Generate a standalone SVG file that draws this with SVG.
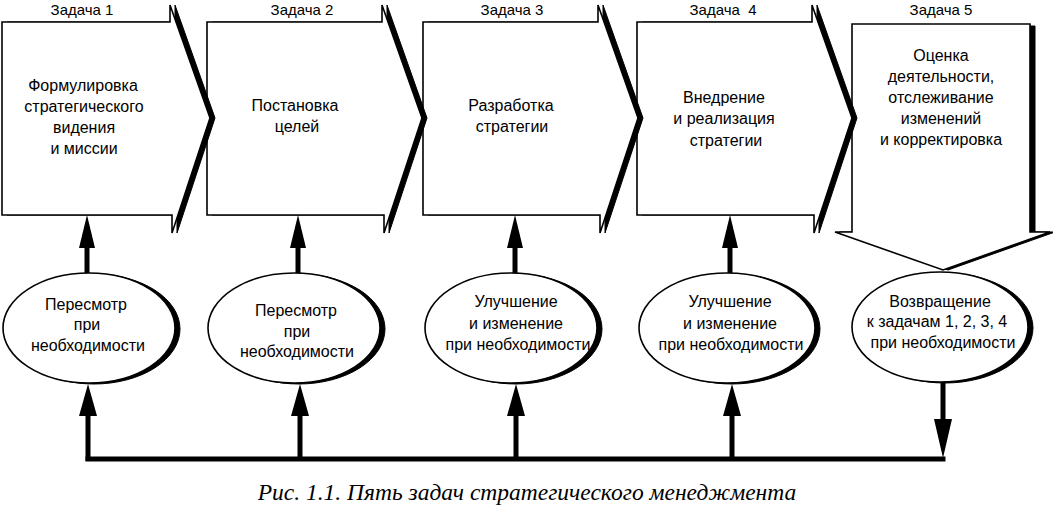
<svg xmlns="http://www.w3.org/2000/svg" width="1053" height="508" viewBox="0 0 1053 508">
<style>
.box{fill:#fff;stroke:#000;stroke-width:1.6;stroke-linejoin:miter}
.sh{fill:#000;stroke:#000;stroke-width:1}
.ell{fill:#fff;stroke:#000;stroke-width:1.6}
.lbl{font-family:"Liberation Sans",Arial,sans-serif;font-size:15px;fill:#000;text-anchor:middle}
.t{font-family:"Liberation Sans",Arial,sans-serif;font-size:16px;fill:#000;text-anchor:middle}
.cap{font-family:"Liberation Serif","Times New Roman",serif;font-style:italic;font-size:23.5px;fill:#000;text-anchor:middle}
.shaft{stroke:#000;stroke-width:5;fill:none}
.head{fill:#000}
</style>
<rect width="1053" height="508" fill="#fff"/>

<g id="task5">
<path class="sh" transform="translate(5,0)" d="M852,26 H1030 V232 H1050 L943,270 L835,232 H852 Z"/>
<path class="box" d="M852,24 H1030 V232 H1050 L943,270 L835,232 H852 Z"/>
<text class="lbl" x="941" y="15">Задача 5</text>
<text class="t" x="941" y="61">Оценка</text>
<text class="t" x="941" y="82">деятельности,</text>
<text class="t" x="941" y="103">отслеживание</text>
<text class="t" x="941" y="124">изменений</text>
<text class="t" x="941" y="145">и корректировка</text>
</g>

<g id="task4">
<path class="sh" transform="translate(5,0)" d="M637,22 H812 V5 L852,118 L814,233 V215 H637 Z"/>
<path class="box" d="M637,22 H812 V5 L852,118 L814,233 V215 H637 Z"/>
<text class="lbl" x="723" y="15" xml:space="preserve">Задача  4</text>
<text class="t" x="724" y="103">Внедрение</text>
<text class="t" x="724" y="124">и реализация</text>
<text class="t" x="726" y="146">стратегии</text>
</g>

<g id="task3">
<path class="sh" transform="translate(5,0)" d="M423,22 H598 V5 L638,118 L600,233 V215 H423 Z"/>
<path class="box" d="M423,22 H598 V5 L638,118 L600,233 V215 H423 Z"/>
<text class="lbl" x="512" y="15">Задача 3</text>
<text class="t" x="511" y="111">Разработка</text>
<text class="t" x="512" y="132">стратегии</text>
</g>

<g id="task2">
<path class="sh" transform="translate(5,0)" d="M207,22 H382 V5 L422,118 L384,233 V215 H207 Z"/>
<path class="box" d="M207,22 H382 V5 L422,118 L384,233 V215 H207 Z"/>
<text class="lbl" x="302" y="15">Задача 2</text>
<text class="t" x="295" y="111">Постановка</text>
<text class="t" x="297" y="132">целей</text>
</g>

<g id="task1">
<path class="sh" transform="translate(5,0)" d="M2,22 H170 V5 L210,118 L172,233 V215 H2 Z"/>
<path class="box" d="M2,22 H170 V5 L210,118 L172,233 V215 H2 Z"/>
<text class="lbl" x="82" y="15">Задача 1</text>
<text class="t" x="83" y="91">Формулировка</text>
<text class="t" x="84" y="112">стратегического</text>
<text class="t" x="84" y="133">видения</text>
<text class="t" x="84" y="154">и миссии</text>
</g>

<g id="review1">
<ellipse class="sh" cx="94" cy="329" rx="86" ry="55"/>
<ellipse class="ell" cx="89" cy="328" rx="86" ry="55"/>
<text class="t" x="86" y="310">Пересмотр</text>
<text class="t" x="87" y="330">при</text>
<text class="t" x="88" y="351">необходимости</text>
</g>

<g id="review2">
<ellipse class="sh" cx="299" cy="329" rx="86" ry="55"/>
<ellipse class="ell" cx="294" cy="328" rx="86" ry="55"/>
<text class="t" x="296" y="316">Пересмотр</text>
<text class="t" x="297" y="337">при</text>
<text class="t" x="297" y="357">необходимости</text>
</g>

<g id="improve3">
<ellipse class="sh" cx="516" cy="329" rx="86" ry="55"/>
<ellipse class="ell" cx="511" cy="328" rx="86" ry="55"/>
<text class="t" x="516" y="307">Улучшение</text>
<text class="t" x="516" y="329">и изменение</text>
<text class="t" x="518" y="350">при необходимости</text>
</g>

<g id="improve4">
<ellipse class="sh" cx="732" cy="329" rx="88" ry="55"/>
<ellipse class="ell" cx="727" cy="328" rx="88" ry="55"/>
<text class="t" x="730" y="307">Улучшение</text>
<text class="t" x="730" y="329">и изменение</text>
<text class="t" x="731" y="350">при необходимости</text>
</g>

<g id="return5">
<ellipse class="sh" cx="945" cy="328" rx="88" ry="55"/>
<ellipse class="ell" cx="940" cy="327" rx="88" ry="55"/>
<text class="t" x="940" y="307">Возвращение</text>
<text class="t" x="937" y="327">к задачам 1, 2, 3, 4</text>
<text class="t" x="943" y="348">при необходимости</text>
</g>

<g id="connectors">
<line class="shaft" x1="87" y1="273" x2="87" y2="244"/>
<polygon class="head" points="87,215 79,248 95,248"/>
<line class="shaft" x1="298" y1="273" x2="298" y2="244"/>
<polygon class="head" points="298,215 290,248 306,248"/>
<line class="shaft" x1="515" y1="273" x2="515" y2="244"/>
<polygon class="head" points="515,215 507,248 523,248"/>
<line class="shaft" x1="730" y1="273" x2="730" y2="244"/>
<polygon class="head" points="730,215 722,248 738,248"/>
<polyline class="shaft" points="943,382 943,419"/>
<polygon class="head" points="934,419 952,419 943,458"/>
<line class="shaft" x1="85.5" y1="459" x2="945.5" y2="459"/>
<line class="shaft" x1="88" y1="461" x2="88" y2="413"/>
<polygon class="head" points="88,384 79,416 97,416"/>
<line class="shaft" x1="300" y1="461" x2="300" y2="413"/>
<polygon class="head" points="300,384 291,416 309,416"/>
<line class="shaft" x1="516" y1="461" x2="516" y2="413"/>
<polygon class="head" points="516,384 507,416 525,416"/>
<line class="shaft" x1="732" y1="461" x2="732" y2="413"/>
<polygon class="head" points="732,384 723,416 741,416"/>
</g>

<text class="cap" x="527" y="500">Рис. 1.1. Пять задач стратегического менеджмента</text>
</svg>
